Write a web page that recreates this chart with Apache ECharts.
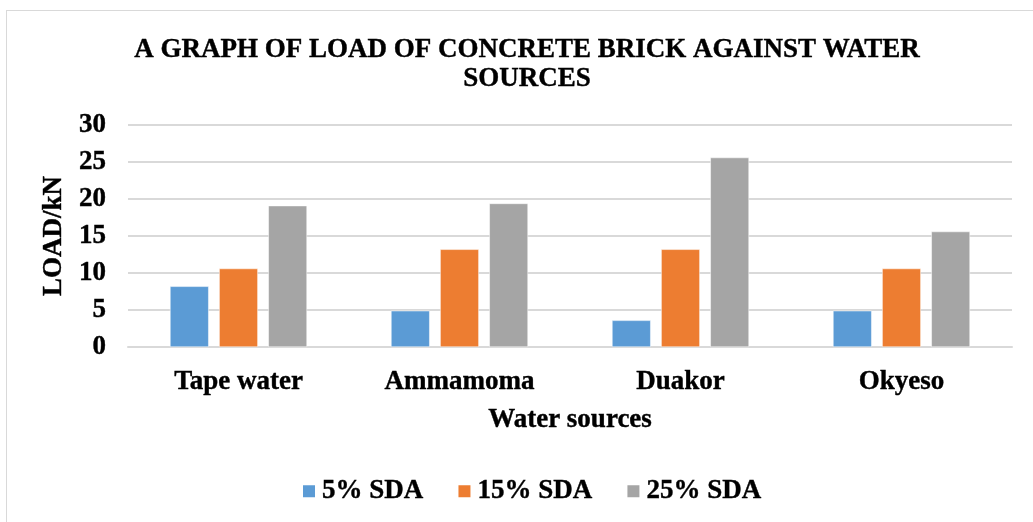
<!DOCTYPE html>
<html>
<head>
<meta charset="utf-8">
<script src="https://cdn.jsdelivr.net/npm/echarts@6/dist/echarts.min.js"></script>
<style>
  html, body { margin: 0; padding: 0; background: #fff; }
  #frame { position: absolute; left: 6px; top: 10px; width: 1040px; height: 530px;
           border-left: 1px solid #d9d9d9; border-top: 1px solid #d9d9d9; box-sizing: border-box; }
  #chart { position: absolute; left: 0; top: 0; width: 1033px; height: 522px; }
</style>
</head>
<body>
<div id="frame"></div>
<div id="chart"></div>
<script>
// Water sources tested
const categories = ['Tape water', 'Ammamoma', 'Duakor', 'Okyeso'];
// Load (kN) for each SDA replacement level
const sda5 = [8.2, 4.9, 3.6, 4.9];
const sda15 = [10.6, 13.2, 13.2, 10.6];
const sda25 = [19.1, 19.4, 25.6, 15.6];
const seriesNames = ['5% SDA', '15% SDA', '25% SDA'];
const yTicks = { min: 0, max: 30, interval: 5 };

const font = '"Liberation Serif", "Times New Roman", serif';
const colors = ['#5B9BD5', '#ED7D31', '#A5A5A5'];

// Heavy black serif text used for every label
function txt(size, extra) {
  return Object.assign({
    fontFamily: font, fontWeight: 'bold', fontSize: size, color: '#000',
    textBorderColor: '#000', textBorderWidth: 0.4
  }, extra || {});
}

const chart = echarts.init(document.getElementById('chart'), null, { renderer: 'canvas' });

function bar(name, data, color) {
  return {
    name: name,
    type: 'bar',
    data: data,
    barGap: '27%',
    barCategoryGap: '38%',
    itemStyle: { color: color, borderColor: '#ffffff', borderWidth: 0.5 }
  };
}

chart.setOption({
  animation: false,
  backgroundColor: 'transparent',
  color: colors,
  title: {
    text: 'A GRAPH OF LOAD OF CONCRETE BRICK AGAINST WATER\nSOURCES',
    left: 522,
    textAlign: 'center',
    top: 31,
    textStyle: txt(27, { lineHeight: 29 })
  },
  legend: {
    data: seriesNames,
    bottom: 12,
    left: 296,
    itemWidth: 14,
    itemHeight: 14,
    itemGap: 33,
    icon: 'rect',
    textStyle: txt(27, { padding: [0, 0, 0, 1] })
  },
  grid: { left: 128, right: 21, top: 125, bottom: 175, containLabel: false },
  xAxis: {
    type: 'category',
    data: categories,
    name: 'Water sources',
    nameLocation: 'middle',
    nameGap: 60,
    nameTextStyle: txt(27),
    axisLine: { show: true, lineStyle: { color: '#d9d9d9', width: 2 } },
    axisTick: { show: false },
    axisLabel: txt(27, { margin: 22 })
  },
  yAxis: {
    type: 'value',
    min: yTicks.min,
    max: yTicks.max,
    interval: yTicks.interval,
    name: 'LOAD/kN',
    nameLocation: 'middle',
    nameGap: 50,
    nameTextStyle: txt(27),
    axisLine: { show: false },
    axisTick: { show: false },
    axisLabel: txt(27, { margin: 22 }),
    splitLine: { lineStyle: { color: '#d9d9d9', width: 2 } }
  },
  series: [
    bar(seriesNames[0], sda5, colors[0]),
    bar(seriesNames[1], sda15, colors[1]),
    bar(seriesNames[2], sda25, colors[2])
  ]
});
</script>
</body>
</html>
